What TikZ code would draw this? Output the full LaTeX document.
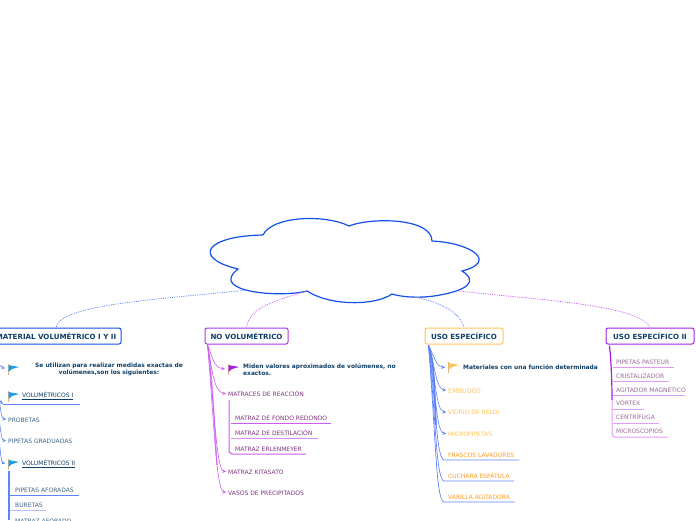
\documentclass[tikz,border=0pt]{standalone}
\usepackage{fontspec}
\setmainfont{DejaVu Sans}
\usetikzlibrary{
    arrows,
    calc,
    positioning
}
\definecolor{rootblue}{HTML}{1450E6}
\definecolor{inkblue}{HTML}{0F3F66}
\definecolor{linkblue}{HTML}{5F84FA}
\definecolor{linkpurple}{HTML}{CC5CF5}
\definecolor{boxorange}{HTML}{FFC45C}
\definecolor{boxpurple}{HTML}{A41EE6}
\definecolor{flagpole}{HTML}{D9B58C}
\definecolor{flagblue}{HTML}{1E9BE6}
\tikzset{
    topic/.style={draw, rounded corners=2pt, line width=1pt, inner sep=0pt, minimum height=16pt, font=\bfseries\fontsize{7.1}{8}\selectfont, text=inkblue},
    item/.style={anchor=west, inner sep=0pt, font=\fontsize{6}{7}\selectfont},
    note/.style={inner sep=0pt, font=\bfseries\fontsize{5.9}{7}\selectfont, text=inkblue},
    branch/.style={->, >=stealth, line width=0.6pt, shorten >=2pt},
    tie/.style={densely dotted, line width=0.8pt},
    flagmark/.pic={
        \draw[flagpole, line width=0.7pt] (0,0) -- (0,11);
        \fill[pic actions] (0.5,1) -- (11,3) -- (4,5) -- (0.5,8) -- cycle;
    }
}
\begin{document}
\begin{tikzpicture}[x=1pt, y=-1pt]
    \useasboundingbox (0,0) rectangle (696,520);
    % cloud
    \coordinate (c1) at (263,235);
    \coordinate (c2) at (349,226);
    \coordinate (c3) at (432,241);
    \coordinate (c4) at (462,271);
    \coordinate (c5) at (392,294);
    \coordinate (c6) at (307,291);
    \coordinate (c7) at (238,269);
    \draw[rootblue, line width=1.2pt]
        (c1) .. controls (272,216) and (325,214) .. (c2)
        .. controls (372,217) and (432,218) .. (c3)
        .. controls (472,243) and (498,262) .. (c4)
        .. controls (478,281) and (468,290) .. (440,295) .. controls (425,298) and (405,298) .. (c5)
        .. controls (375,306) and (330,306) .. (c6)
        .. controls (280,298) and (208,292) .. (c7)
        .. controls (192,258) and (205,236) .. (c1);
    \coordinate (lk1) at (248,290);
    \coordinate (lk3) at (414,297);
    \coordinate (lk4) at (458,291);
    % topics
    \node[topic, draw=rootblue, minimum width=130pt] (mat) at (56,336) {MATERIAL VOLUMÉTRICO I Y II};
    \node[topic, draw=boxpurple!90, minimum width=83pt] (nov) at (246.5,336) {NO VOLUMÉTRICO};
    \node[topic, draw=boxorange, minimum width=78pt] (uso) at (464,336) {USO ESPECÍFICO};
    \node[topic, draw=boxpurple, minimum width=88pt] (usod) at (650,336) {USO ESPECÍFICO II};
    \draw[linkblue, tie] (lk1) .. controls (150,300) and (60,305) .. (mat.north);
    \draw[linkpurple, tie] (c6) .. controls (270,302) and (250,308) .. (nov.north);
    \draw[linkblue, tie] (lk3) .. controls (440,302) and (460,312) .. (uso.north);
    \draw[linkpurple, tie] (lk4) .. controls (540,300) and (640,305) .. (usod.north);
    % material volumetrico
    \pic[flagblue] at (8,364) {flagmark};
    \node[note, align=center] (mat0) at (109,369.5) {Se utilizan para realizar medidas exactas de\\volúmenes,son los siguientes:};
    \pic[flagblue] at (8,391) {flagmark};
    \node[item, text=inkblue] (mat1) at (22,396) {\underline{VOLUMÉTRICOS I}};
    \node[item, text=inkblue!80] (mat2) at (8,420) {PROBETAS};
    \node[item, text=inkblue!80] (mat3) at (8,441) {PIPETAS GRADUADAS};
    \pic[flagblue] at (8,459) {flagmark};
    \node[item, text=inkblue] (mat4) at (22,464) {\underline{VOLUMÉTRICOS II}};
    \node[item, text=inkblue!80] (mat5) at (15,490) {PIPETAS AFORADAS};
    \node[item, text=inkblue!80] (mat6) at (15,505) {BURETAS};
    \node[item, text=inkblue!80] (mat7) at (15,521.5) {MATRAZ AFORADO};
    \draw[linkblue, line width=0.7pt] (3,404) -- (80,404);
    \draw[linkblue, branch] (-4,345) .. controls (-2,360) and (-2,366) .. (7,369);
    \draw[linkblue, branch, shorten >=0pt] (-4,345) .. controls (-2,380) and (-2,400) .. (3,404);
    \draw[linkblue, branch] (-4,345) .. controls (-2,390) and (0,418) .. (mat2.west);
    \draw[linkblue, branch] (-4,345) .. controls (-2,410) and (0,440) .. (mat3.west);
    \draw[linkblue, branch] (-4,345) .. controls (-2,430) and (0,462) .. (7,464);
    \draw[linkblue, line width=1.5pt] (9,471) -- (9,520);
    \draw[linkblue, line width=0.7pt] (10,495) -- (79,495);
    \draw[linkblue!50, line width=0.9pt] (10,510.5) -- (46,510.5);
    % no volumetrico
    \pic[boxpurple] at (228,364) {flagmark};
    \node[note, align=left, anchor=west] (nov0) at (243,369.5) {Miden valores aproximados de volúmenes, no\\exactos.};
    \node[item, text=violet!60!gray] (nov1) at (228,394) {MATRACES DE REACCIÓN};
    \node[item, text=violet!60!gray] (nov2) at (235,418) {MATRAZ DE FONDO REDONDO};
    \node[item, text=violet!60!gray] (nov3) at (235,433) {MATRAZ DE DESTILACIÓN};
    \node[item, text=violet!60!gray] (nov4) at (235,449) {MATRAZ ERLENMEYER};
    \node[item, text=violet!60!gray] (nov5) at (228,472) {MATRAZ KITASATO};
    \node[item, text=violet!60!gray] (nov6) at (228,493) {VASOS DE PRECIPITADOS};
    \draw[linkpurple!70, line width=1.3pt] (nov.south west) ++(3,0) .. controls (212,370) and (214,420) .. (217,465);
    \draw[linkpurple, branch] (nov.south west) ++(3,0) .. controls (212,356) and (214,368) .. (227,369);
    \draw[linkpurple, branch] (nov.south west) ++(3,0) .. controls (212,370) and (214,392) .. (nov1.west);
    \draw[linkpurple, branch] (nov.south west) ++(3,0) .. controls (214,400) and (216,470) .. (nov5.west);
    \draw[linkpurple, branch] (nov.south west) ++(3,0) .. controls (214,420) and (216,490) .. (nov6.west);
    \draw[linkpurple, line width=1pt] (229,400) -- (229,452) -- (232,454) -- (306,454);
    \draw[linkpurple, line width=0.7pt] (231,423) -- (331,423);
    \draw[linkpurple!70, line width=0.9pt] (231,438.5) -- (318,438.5);
    % uso especifico
    \pic[boxorange] at (448,362) {flagmark};
    \node[note, anchor=west] (uso0) at (463,367) {Materiales con una función determinada};
    \node[item, text=boxorange, font=\fontsize{6.4}{7}\selectfont] (uso1) at (448,391) {EMBUDOS};
    \node[item, text=boxorange] (uso2) at (448,413) {VIDRIO DE RELOJ};
    \node[item, text=boxorange] (uso3) at (448,434) {MICROPIPETAS};
    \node[item, text=orange!60!boxorange] (uso4) at (448,455) {FRASCOS LAVADORES};
    \node[item, text=orange!60!boxorange] (uso5) at (448,476) {CUCHARA ESPÁTULA};
    \node[item, text=orange!60!boxorange] (uso6) at (448,497) {VARILLA AGITADORA};
    \draw[rootblue!70, line width=1.6pt] (uso.south west) ++(4,1) .. controls (434,360) and (434,380) .. (436,425);
    \draw[linkblue, branch] (uso.south west) ++(4,1) .. controls (436,360) and (436,366) .. (447,368);
    \draw[linkblue, branch] (uso.south west) ++(4,1) .. controls (436,370) and (436,388) .. (uso1.west);
    \draw[linkblue, branch] (uso.south west) ++(4,1) .. controls (436,380) and (436,410) .. (uso2.west);
    \draw[linkblue, branch] (uso.south west) ++(4,1) .. controls (436,390) and (436,432) .. (uso3.west);
    \draw[linkblue, line width=0.7pt] (uso.south west) ++(4,1) .. controls (436,400) and (436,458) .. (444,460) -- (519,460);
    \draw[linkblue, line width=0.7pt] (uso.south west) ++(4,1) .. controls (436,420) and (436,479) .. (444,481) -- (514,481);
    \draw[linkblue, line width=0.7pt] (uso.south west) ++(4,1) .. controls (436,440) and (436,500) .. (444,502) -- (515,502);
    % uso especifico ii
    \node[item, text=violet!45!gray!80] (usd1) at (616,362) {PIPETAS PASTEUR};
    \node[item, text=violet!45!gray!80] (usd2) at (616,376) {CRISTALIZADOR};
    \node[item, text=violet!45!gray!80] (usd3) at (616,390) {AGITADOR MAGNÉTICO};
    \node[item, text=violet!45!gray!80] (usd4) at (616,403) {VÓRTEX};
    \node[item, text=violet!45!gray!80] (usd5) at (616,417) {CENTRÍFUGA};
    \node[item, text=violet!45!gray!80] (usd6) at (616,431) {MICROSCOPIOS};
    \draw[boxpurple, line width=1.2pt] (usod.south west) ++(4,1) .. controls (611,360) and (612,380) .. (612,400);
    \draw[linkpurple!60, line width=1pt] (612,400) -- (612,434) -- (614,437) -- (668,437);
    \draw[linkpurple!60, line width=1pt] (613,367.5) -- (674,367.5);
    \draw[linkpurple!60, line width=1pt] (613,381.5) -- (669,381.5);
    \draw[linkpurple!60, line width=1pt] (613,395) -- (685,395);
    \draw[linkpurple!60, line width=1pt] (613,409) -- (644,409);
    \draw[linkpurple!60, line width=1pt] (613,423) -- (659,423);
\end{tikzpicture}
\end{document}
